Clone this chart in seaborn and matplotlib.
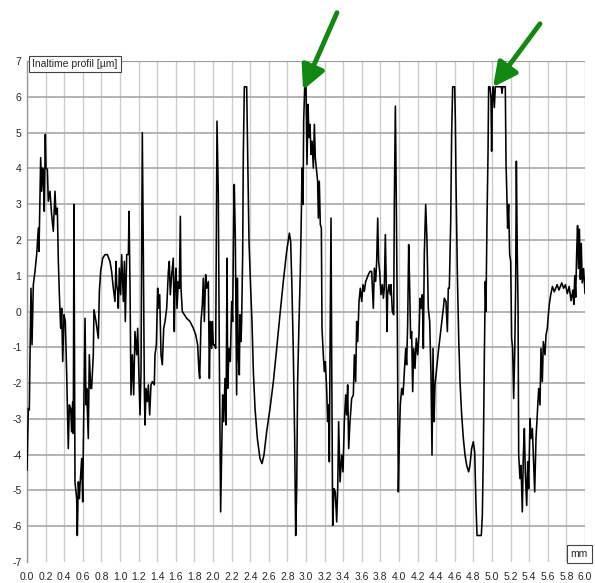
import matplotlib
matplotlib.use("Agg")
import matplotlib.pyplot as plt
import seaborn as sns
import numpy as np

# profile readings, mm / um, split in segments
seg_a_mm = [0.000, 0.004, 0.014, 0.025, 0.032, 0.043, 0.054, 0.068, 0.086, 0.104, 0.122, 0.129, 0.140, 0.147,
            0.158, 0.168, 0.176, 0.186, 0.197, 0.204, 0.219, 0.229, 0.247, 0.265, 0.283, 0.301, 0.312, 0.326,
            0.337, 0.348, 0.362, 0.373, 0.384, 0.398, 0.412, 0.427, 0.444, 0.455, 0.470, 0.480, 0.491, 0.498,
            0.505, 0.516, 0.534, 0.541, 0.552, 0.563, 0.570, 0.588, 0.599, 0.606, 0.624, 0.634, 0.642, 0.659,
            0.670, 0.685, 0.695, 0.713, 0.720, 0.742, 0.767, 0.778, 0.792, 0.814, 0.839, 0.864, 0.892, 0.910,
            0.928, 0.946, 0.957, 0.964, 0.975, 0.982, 0.993, 1.007, 1.018, 1.036, 1.047, 1.057, 1.072]
seg_a_um = [-4.44, -4.01, -2.71, -2.75, -1.31, 0.65, -0.93, 0.75, 1.12, 1.59, 2.33, 1.68, 3.27, 4.30,
            3.36, 4.01, 3.83, 2.80, 4.95, 4.01, 3.97, 3.08, 3.36, 2.71, 2.24, 3.36, 2.71, 2.89,
            1.40, 0.47, -0.47, 0.09, -1.40, -0.09, -0.28, -1.77, -3.83, -2.61, -2.71, -3.36, -2.52, -3.41,
            2.99, -4.76, -5.23, -6.26, -4.76, -5.23, -4.86, -4.11, -5.32, -3.73, -0.19, -2.61, -2.15, -3.55,
            -1.21, -2.15, -2.15, -1.21, 0.05, -0.28, -0.75, 0.56, 1.12, 1.49, 1.59, 1.59, 1.40, 1.12,
            0.65, 0.28, 1.40, 0.75, 0.56, 0.09, 1.21, 0.47, 1.59, 0.28, 1.40, -0.28, 1.59]

seg_b_mm = [1.090, 1.097, 1.108, 1.118, 1.133, 1.147, 1.161, 1.179, 1.190, 1.204, 1.215, 1.226, 1.240, 1.251,
            1.262, 1.269, 1.280, 1.294, 1.305, 1.319, 1.333, 1.348, 1.369, 1.376, 1.391, 1.405, 1.412, 1.427,
            1.441, 1.455, 1.470, 1.484, 1.502, 1.520, 1.530, 1.541, 1.556, 1.573, 1.584, 1.591, 1.602, 1.613,
            1.627, 1.638, 1.649, 1.656, 1.670, 1.692, 1.717, 1.753, 1.789, 1.814, 1.835, 1.849, 1.857, 1.871,
            1.885, 1.896, 1.907, 1.921, 1.932, 1.950, 1.961, 1.971, 1.986, 1.993, 2.004, 2.014, 2.029, 2.043,
            2.057, 2.068, 2.082, 2.093, 2.104, 2.115, 2.129, 2.140, 2.151, 2.158, 2.172, 2.186, 2.201, 2.211,
            2.222]
seg_b_um = [1.59, 2.80, 0.65, -2.33, -1.21, -2.33, -0.56, -1.21, -0.47, -1.87, -2.89, -1.68, 5.00, 1.59,
            -2.24, -3.17, -2.15, -2.52, -2.05, -2.89, -2.05, -1.96, -2.05, -1.21, -0.93, 0.65, 0.09, 0.47,
            -1.21, -1.49, -0.47, -0.28, 0.09, 1.12, 1.40, 0.47, 1.03, 1.49, -0.56, 0.65, 1.21, 0.09,
            0.84, 0.65, 2.66, 0.65, 0.00, -0.09, -0.19, -0.28, -0.47, -0.65, -0.93, -1.68, -1.87, -0.28,
            0.19, 0.93, -0.28, 1.03, 0.65, 0.84, -1.87, -0.28, -1.03, -0.28, -0.93, -0.93, -1.03, 5.32,
            3.27, -1.21, -5.60, -4.01, -2.33, -3.08, -1.87, -3.17, 1.49, -2.15, -1.03, -1.40, 0.28, -0.28,
            2.52]

seg_c_mm = [2.229, 2.240, 2.247, 2.254, 2.262, 2.272, 2.283, 2.290, 2.301, 2.308, 2.319, 2.326, 2.337, 2.362,
            2.373, 2.387, 2.405, 2.419, 2.434, 2.452, 2.477, 2.505, 2.527, 2.548, 2.577, 2.613, 2.649, 2.685,
            2.720, 2.756, 2.792, 2.821, 2.835, 2.849, 2.864, 2.878, 2.889, 2.900, 2.910, 2.925, 2.939, 2.950,
            2.957, 2.968, 2.975, 2.986, 3.000, 3.011, 3.022, 3.032, 3.043, 3.054, 3.065, 3.079, 3.090, 3.100,
            3.115, 3.125, 3.133, 3.143, 3.154, 3.165, 3.172, 3.186, 3.197, 3.208, 3.222, 3.233, 3.244, 3.251,
            3.258, 3.269, 3.276, 3.287, 3.301, 3.315, 3.330, 3.341, 3.351]
seg_c_um = [3.55, 2.05, -0.28, -2.33, 0.93, -1.21, -1.77, -0.09, -0.84, -0.28, 1.59, 4.39, 6.28, 6.28,
            4.39, 1.96, 0.65, -0.28, -1.68, -2.71, -3.55, -4.11, -4.25, -4.01, -3.36, -2.71, -1.96, -1.03,
            -0.09, 0.84, 1.68, 2.19, 1.96, 0.65, -1.21, -3.55, -6.26, -4.95, -1.96, -0.28, 1.12, 2.71,
            4.01, 2.99, 5.32, 6.28, 6.28, 4.11, 5.79, 4.86, 5.23, 4.39, 4.76, 4.01, 5.23, 4.30,
            3.92, 3.64, 2.61, 3.64, 2.43, 2.33, -0.47, -1.21, -1.68, -1.40, -2.15, -3.08, -2.61, -4.20,
            -1.21, 2.61, -1.21, -5.98, -4.95, -5.04, -5.88, -4.95, -3.08]

seg_d_mm = [3.366, 3.384, 3.398, 3.412, 3.427, 3.437, 3.448, 3.459, 3.473, 3.491, 3.509, 3.520, 3.534, 3.545,
            3.556, 3.570, 3.584, 3.599, 3.613, 3.627, 3.642, 3.656, 3.670, 3.688, 3.706, 3.724, 3.735, 3.749,
            3.760, 3.771, 3.781, 3.792, 3.806, 3.821, 3.832, 3.842, 3.853, 3.864, 3.871, 3.878, 3.892, 3.907,
            3.914, 3.928, 3.943, 3.950, 3.961, 3.971, 3.982, 3.993, 4.004, 4.014, 4.029, 4.043, 4.057, 4.072,
            4.082, 4.093, 4.104, 4.115, 4.125, 4.136, 4.147, 4.158, 4.172, 4.186, 4.201, 4.215, 4.226, 4.237,
            4.251, 4.262, 4.272, 4.287, 4.301, 4.315, 4.330, 4.344, 4.355, 4.366, 4.376, 4.387, 4.405, 4.423,
            4.452, 4.477, 4.487]
seg_d_um = [-4.76, -4.01, -4.48, -3.08, -2.33, -2.89, -2.05, -3.83, -3.08, -2.43, -2.33, -1.21, -1.96, -0.28,
            -0.84, 0.28, 0.65, 0.28, 0.75, 0.56, 0.84, 0.93, 1.03, 1.12, 1.12, 0.09, 1.21, 0.84,
            1.40, 2.61, 1.40, 1.12, 0.47, 0.75, 0.37, 0.65, 2.15, 0.65, -0.56, 0.47, 0.75, 0.47,
            0.75, 0.00, -0.09, 3.08, 5.74, 3.08, -0.28, -5.04, -3.55, -2.61, -2.15, -2.33, -1.68, -1.03,
            -1.49, -0.37, 1.87, 0.65, -0.75, -0.56, -2.24, -1.03, -1.59, -0.75, -1.21, -0.65, 0.37, 0.09,
            0.47, -1.03, 1.59, 2.99, 1.96, 0.09, -0.28, -1.77, -4.01, -1.03, -3.08, -2.05, -1.59, -1.12,
            -0.47, 0.09, 0.37]

seg_e_mm = [4.505, 4.520, 4.530, 4.541, 4.556, 4.566, 4.577, 4.599, 4.606, 4.613, 4.627, 4.642, 4.656, 4.674,
            4.692, 4.710, 4.728, 4.749, 4.763, 4.781, 4.799, 4.814, 4.828, 4.839, 4.885, 4.896, 4.907, 4.918,
            4.928, 4.935, 4.946, 4.957, 4.964, 4.978, 4.989, 4.996, 5.004, 5.014, 5.025, 5.036, 5.100, 5.108,
            5.115, 5.143, 5.151, 5.158, 5.168, 5.179, 5.190, 5.201, 5.211, 5.222, 5.233, 5.244, 5.254, 5.262,
            5.272, 5.280, 5.287, 5.301, 5.312, 5.326, 5.337, 5.348, 5.358, 5.373, 5.384, 5.394, 5.409, 5.419,
            5.434, 5.444, 5.459, 5.473, 5.487, 5.502, 5.516, 5.527, 5.541, 5.552, 5.570, 5.581, 5.595, 5.606,
            5.616]
seg_e_um = [0.28, -0.56, 0.65, 0.65, 2.52, 4.95, 6.28, 6.28, 5.32, 3.64, 1.12, -0.75, -1.96, -2.89,
            -3.55, -4.01, -4.30, -4.48, -4.30, -3.83, -3.64, -3.92, -5.42, -6.26, -6.26, -5.70, -3.92, -1.21,
            0.84, 0.00, 2.52, 4.39, 6.28, 6.28, 5.98, 4.48, 5.98, 6.28, 5.70, 6.28, 6.28, 6.10,
            6.28, 6.28, 4.11, 3.45, 2.33, 2.99, 1.59, 1.40, -0.75, -1.03, -2.43, -1.21, 0.65, 4.20,
            1.59, 0.19, -4.01, -4.67, -4.30, -5.60, -4.01, -3.27, -4.48, -5.42, -4.20, -4.95, -2.99, -3.55,
            -3.27, -4.01, -5.04, -3.55, -2.89, -2.15, -2.61, -1.03, -1.96, -0.84, -1.21, -0.65, -0.47, -0.09,
            0.19]

seg_f_mm = [5.63, 5.65, 5.67, 5.70, 5.72, 5.75, 5.77, 5.79, 5.81, 5.83, 5.85, 5.87, 5.88, 5.89,
            5.90, 5.91, 5.92, 5.93, 5.94, 5.95, 5.96, 5.97, 5.985, 6.00]
seg_f_um = [0.45, 0.70, 0.55, 0.75, 0.60, 0.80, 0.65, 0.75, 0.50, 0.70, 0.30, 0.60, 0.20, 1.00,
            0.40, 1.60, 2.40, 1.20, 2.30, 0.90, 1.90, 0.80, 1.20, 0.50]

x_ticks = [round(0.2 * i, 1) for i in range(31)]
x_tick_labels = [f"{v:.1f}" for v in x_ticks]
y_ticks = list(range(-7, 8))

segs_mm = [seg_a_mm, seg_b_mm, seg_c_mm, seg_d_mm, seg_e_mm, seg_f_mm]
segs_um = [seg_a_um, seg_b_um, seg_c_um, seg_d_um, seg_e_um, seg_f_um]
for a, b in zip(segs_mm, segs_um):
    assert len(a) == len(b), (len(a), len(b))
mm = np.concatenate(segs_mm)
um = np.concatenate(segs_um)

sns.set_style("white")
plt.rcParams["font.family"] = ["Liberation Sans", "DejaVu Sans"]
plt.rcParams["axes.unicode_minus"] = False

fig = plt.figure(figsize=(5.95, 5.83), dpi=100)
ax = fig.add_axes([27 / 595, 1 - 562 / 583, (585 - 27) / 595, (562 - 61) / 583])

sns.lineplot(x=mm, y=um, ax=ax, color="black", lw=1.15, sort=False, estimator=None, zorder=3)

ax.set_xlim(0, 6)
ax.set_ylim(-7, 7)
ax.set_xticks(x_ticks)
ax.set_xticklabels(x_tick_labels)
ax.set_yticks(y_ticks)
ax.set_xlabel("")
ax.set_ylabel("")

ax.grid(axis="x", color="#cccccc", lw=1.0)
ax.grid(axis="y", color="#a8a8a8", lw=1.2)
ax.yaxis.get_gridlines()[0].set_visible(False)
ax.yaxis.get_gridlines()[-1].set_color("#999999")
ax.yaxis.get_gridlines()[-1].set_linewidth(1.5)
ax.set_axisbelow(True)

for s in ["top", "right", "bottom"]:
    ax.spines[s].set_visible(False)
ax.spines["left"].set_color("#999999")
ax.spines["left"].set_linewidth(1.0)

ax.tick_params(axis="x", direction="out", length=4, width=0.8, color="#888888", labelsize=7.5, pad=3)
ax.tick_params(axis="y", direction="out", length=3, width=0.8, color="#888888", labelsize=7.5, pad=1)

fig.text(32 / 595, 1 - 64 / 583, "Inaltime profil [µm]", fontsize=7.5, va="center", ha="left",
         bbox=dict(boxstyle="square,pad=0.3", fc="white", ec="#444444", lw=0.8), zorder=10)
fig.text(588 / 595, 1 - 554 / 583, "mm", fontsize=7.5, va="center", ha="right",
         bbox=dict(boxstyle="square,pad=0.35", fc="white", ec="#444444", lw=0.8), zorder=10)

arrow_style = dict(arrowstyle="-|>,head_width=0.45,head_length=0.9", color="#118811", lw=3.5,
                   mutation_scale=16, shrinkA=0, shrinkB=0)
ax.annotate("", xy=(2.968, 6.19), xytext=(3.333, 8.35), arrowprops=arrow_style, annotation_clip=False, zorder=6)
ax.annotate("", xy=(5.011, 6.27), xytext=(5.516, 8.04), arrowprops=arrow_style, annotation_clip=False, zorder=6)

fig.savefig("out.png", dpi=100)
